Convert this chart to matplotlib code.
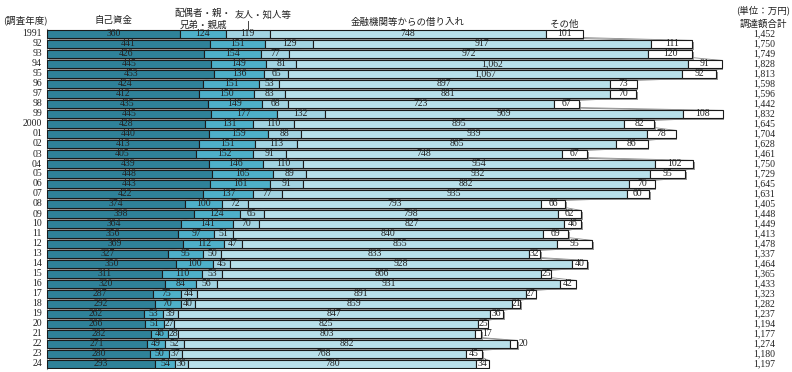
import matplotlib
matplotlib.use("Agg")
import matplotlib.pyplot as plt
import matplotlib.patheffects as pe
import numpy as np

# data (万円)
years = ["1991", "92", "93", "94", "95", "96", "97", "98", "99", "2000",
         "01", "02", "03", "04", "05", "06", "07", "08", "09", "10",
         "11", "12", "13", "14", "15", "16", "17", "18", "19", "20",
         "21", "22", "23", "24"]
own = [360, 441, 426, 445, 453, 424, 412, 435, 445, 428, 440, 413, 405, 439, 448, 443, 422,
       374, 398, 364, 356, 369, 327, 350, 311, 320, 287, 292, 262, 266, 282, 271, 280, 293]
family = [124, 151, 154, 149, 136, 151, 150, 149, 177, 131, 159, 151, 152, 146, 165, 161, 137,
          100, 124, 141, 97, 112, 95, 100, 110, 84, 75, 70, 53, 51, 46, 49, 50, 54]
friends = [119, 129, 77, 81, 65, 53, 83, 68, 132, 110, 88, 113, 91, 110, 89, 91, 77,
           72, 65, 70, 51, 47, 50, 45, 53, 56, 44, 40, 39, 27, 28, 52, 37, 36]
bank = [748, 917, 972, 1062, 1067, 897, 881, 723, 969, 895, 939, 865, 748, 954, 932, 882, 935,
        793, 798, 827, 840, 855, 833, 928, 866, 931, 891, 859, 847, 825, 803, 882, 768, 780]
other = [101, 111, 120, 91, 92, 73, 70, 67, 108, 82, 78, 86, 67, 102, 95, 70, 60,
         66, 62, 46, 69, 95, 32, 40, 25, 42, 27, 21, 36, 25, 17, 20, 45, 34]
totals = [1452, 1750, 1749, 1828, 1813, 1598, 1596, 1442, 1832, 1645, 1704, 1628, 1461, 1750,
          1729, 1645, 1631, 1405, 1448, 1449, 1413, 1478, 1337, 1464, 1365, 1433, 1323, 1282,
          1237, 1194, 1177, 1274, 1180, 1197]

series = [own, family, friends, bank, other]
colors = ["#2f8299", "#4eb0c9", "#a2d4e2", "#b8e0ea", "#ffffff"]

W, H = 792, 372
JP = ["Noto Sans CJK JP", "DejaVu Sans"]
NUM = "Liberation Serif"

fig = plt.figure(figsize=(W / 100, H / 100), dpi=100)
fig.patch.set_facecolor("white")

# axes: x=0 at px 47, 0.369 px per 万円; rows 10 px apart starting at px 34
x0 = 47
scale = 0.369
ax = fig.add_axes([x0 / W, 1 - 369 / H, (W - x0) / W, 340 / H])
ax.set_xlim(0, (W - x0) / scale)
ax.set_ylim(len(years) - 0.5, -0.5)
ax.axis("off")

y = np.arange(len(years))
h = 0.72
left = np.zeros(len(years))
shadow = [pe.SimplePatchShadow(offset=(1.2, -1.5), shadow_rgbFace="#8c8c8c", alpha=0.9), pe.Normal()]
bounds = []
for vals, c in zip(series, colors):
    vals = np.array(vals, dtype=float)
    bars = ax.barh(y, vals, left=left, height=h, color=c, edgecolor="#1a1a1a",
                   linewidth=0.8, zorder=3)
    for b in bars:
        b.set_path_effects(shadow)
    for i, v in enumerate(vals):
        if v <= 20:
            ax.text(left[i] + v + 4, y[i], f"{int(v):,}", ha="left", va="center",
                    fontsize=7, family=NUM, color="#222222", zorder=5)
        else:
            ax.text(left[i] + v / 2, y[i], f"{int(v):,}", ha="center", va="center",
                    fontsize=7, family=NUM, color="#222222", zorder=5)
    left = left + vals
    bounds.append(left.copy())

# series lines between neighbouring bars
for bd in bounds:
    for i in range(len(years) - 1):
        ax.plot([bd[i], bd[i + 1]], [y[i] + h / 2, y[i + 1] - h / 2],
                color="#8a8a8a", lw=0.6, zorder=2)

# left axis line
ax.plot([0, 0], [-0.5, len(years) - 0.5], color="#999999", lw=0.8, zorder=1, clip_on=False)

# year labels and totals
for i, yr in enumerate(years):
    fig.text(42 / W, 1 - (34 + 10 * i) / H, yr, ha="right", va="center",
             fontsize=7, family=NUM, color="#222222")
    fig.text(764 / W, 1 - (34 + 10 * i) / H, f"{totals[i]:,}", ha="center", va="center",
             fontsize=7, family=NUM, color="#222222")


def head(px, py, s):
    fig.text(px / W, 1 - py / H, s, ha="center", va="center", fontsize=6.8,
             family=JP, color="#222222")


head(25, 20, "(調査年度)")
head(113, 20, "自己資金")
head(203, 13, "配偶者・親・")
head(203, 25, "兄弟・親戚")
head(263, 15, "友人・知人等")
head(408, 22, "金融機関等からの借り入れ")
head(564, 24, "その他")
head(763, 10, "(単位：万円)")
head(763, 24, "調達額合計")
fig.add_artist(plt.Line2D([248 / W, 248 / W], [1 - 21 / H, 1 - 30 / H], color="#444444", lw=0.7))

fig.savefig("out.png", dpi=100)
